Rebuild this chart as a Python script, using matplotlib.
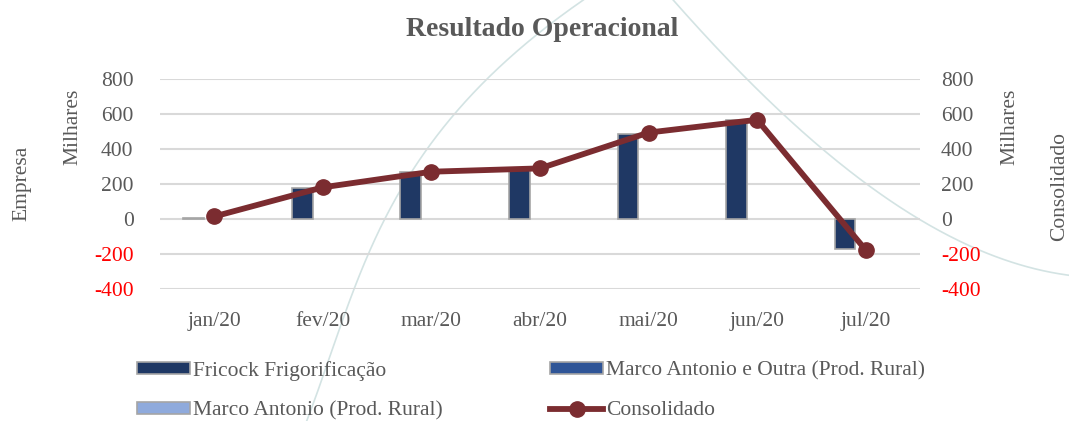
import numpy as np
import matplotlib
matplotlib.use("Agg")
import matplotlib.pyplot as plt
from matplotlib.patches import Patch
from matplotlib.lines import Line2D

months = ["jan/20", "fev/20", "mar/20", "abr/20", "mai/20", "jun/20", "jul/20"]
fricock = [5, 180, 266, 280, 487, 566, -170]
marco_outra = [0, 0, 0, 0, 0, 0, 0]
marco = [0, 0, 0, 0, 0, 0, 0]
consolidado = [15, 181, 270, 289, 493, 566, -176]
yticks = [-400, -200, 0, 200, 400, 600, 800]

plt.rcParams['font.family'] = ['Liberation Serif', 'DejaVu Serif']
W, H = 1069, 421
FS = 15.5
fig = plt.figure(figsize=(W/100, H/100), dpi=100)

# decorative background arcs (figure pixel coords)
bg = fig.add_axes([0, 0, 1, 1], zorder=-10)
bg.set_xlim(0, W); bg.set_ylim(H, 0); bg.axis('off')
a1y = np.array([421, 400, 330, 280, 190, 133, 70, 0])
a1x = np.array([308, 313, 337, 362, 397, 440, 497, 583])
p1 = np.polyfit(a1y, a1x, 3)
yy = np.linspace(0, 421, 200)
bg.plot(np.polyval(p1, yy), yy, color='#D3E3E3', lw=1.2)
a2x = np.array([673, 700, 743, 870, 930, 1069])
a2y = np.array([0, 28, 78, 183, 228, 275])
p2 = np.polyfit(a2x, a2y, 3)
xx = np.linspace(673, 1069, 200)
bg.plot(xx, np.polyval(p2, xx), color='#D3E3E3', lw=1.2)

ax = fig.add_axes([160/W, 1-289.3/H, (920-160)/W, (289.3-78.7)/H])
ax.patch.set_alpha(0)
x = np.arange(len(months))
bw = 0.19
ax.bar(x - bw, fricock, bw, color='#1F3864', edgecolor='#A5A5A5', linewidth=1.2, zorder=3)
ax.bar(x, marco_outra, bw, color='#2F5597', linewidth=0, zorder=3)
ax.bar(x + bw, marco, bw, color='#8FAADC', linewidth=0, zorder=3)
ax.set_ylim(-400, 800)
ax.set_xlim(-0.5, len(months) - 0.5)
ax.set_yticks(yticks)
ax.set_yticklabels([str(v) for v in yticks])
ax.set_xticks(x)
ax.set_xticklabels(months)
ax.grid(axis='y', color='#D9D9D9', lw=1.5, zorder=0)
for s in ax.spines.values():
    s.set_visible(False)
ax.tick_params(axis='y', length=0, pad=19, labelsize=FS, labelcolor='#595959')
ax.tick_params(axis='x', length=0, pad=16, labelsize=FS, labelcolor='#595959')

ax2 = ax.twinx()
ax2.plot(x, consolidado, color='#7B2C30', lw=4.2, marker='o', markersize=11, zorder=5)
ax2.set_ylim(-400, 800)
ax2.set_yticks(yticks)
ax2.set_yticklabels([str(v) for v in yticks])
for s in ax2.spines.values():
    s.set_visible(False)
ax2.tick_params(axis='y', length=0, pad=15, labelsize=FS, labelcolor='#595959')

for a in (ax, ax2):
    for lab, v in zip(a.get_yticklabels(), yticks):
        if v < 0:
            lab.set_color('#FF0000')

fig.text(542/W, 1-30/H, "Resultado Operacional", ha='center', va='center',
         fontsize=20, fontweight='bold', color='#595959')
fig.text(73/W, 1-127/H, "Milhares", rotation=90, ha='center', va='center', fontsize=FS, color='#595959')
fig.text(22/W, 1-183/H, "Empresa", rotation=90, ha='center', va='center', fontsize=FS, color='#595959')
fig.text(1010/W, 1-127/H, "Milhares", rotation=90, ha='center', va='center', fontsize=FS, color='#595959')
fig.text(1060/W, 1-187/H, "Consolidado", rotation=90, ha='center', va='center', fontsize=FS, color='#595959')

handles = [
    Patch(facecolor='#1F3864', edgecolor='#A5A5A5', lw=1.2),
    Patch(facecolor='#8FAADC', edgecolor='#A5A5A5', lw=1.2),
    Patch(facecolor='#2F5597', edgecolor='#A5A5A5', lw=1.2),
    Line2D([0], [0], color='#7B2C30', lw=4.2, marker='o', markersize=11),
]
labels = ["Fricock Frigorificação", "Marco Antonio (Prod. Rural)",
          "Marco Antonio e Outra (Prod. Rural)", "Consolidado"]
leg = fig.legend(handles, labels, ncol=2, loc='upper left', bbox_to_anchor=(137/W, 1-361/H),
                 frameon=False, fontsize=FS, handlelength=2.45, handleheight=0.45,
                 handletextpad=0.14, columnspacing=5.0, labelspacing=0.95, borderpad=0,
                 borderaxespad=0)
for t in leg.get_texts():
    t.set_color('#595959')

fig.savefig("out.png", dpi=100)
